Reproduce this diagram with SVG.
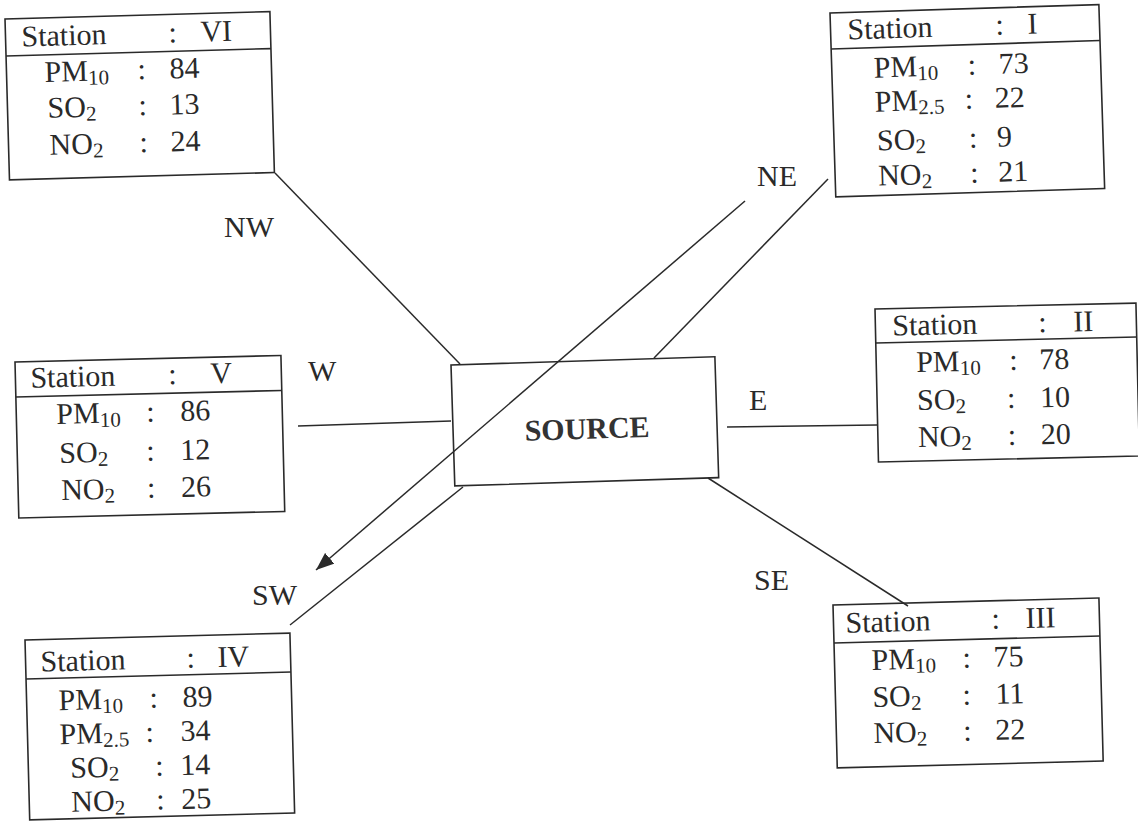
<svg xmlns="http://www.w3.org/2000/svg" width="1138" height="829" viewBox="0 0 1138 829">
<defs>
<style>
.box{fill:none;stroke:#2a2a2a;stroke-width:1.6}
.hd{stroke:#2a2a2a;stroke-width:1.6}
.t{font-family:"Liberation Serif","Times New Roman",serif;font-size:30px;fill:#2a2a2a}
.s{font-size:21px}
.src{font-family:"Liberation Serif","Times New Roman",serif;font-size:30px;font-weight:bold;fill:#333;text-anchor:middle}
.conn line{stroke:#2a2a2a;stroke-width:1.5}
</style>
<marker id="arr" markerUnits="userSpaceOnUse" markerWidth="20" markerHeight="14" refX="18" refY="7" orient="auto">
<path d="M0,0 L18,7 L0,14 z" fill="#2a2a2a"/>
</marker>
</defs>
<rect width="1138" height="829" fill="#fff"/>

<g class="conn" id="connectors">
<line x1="275" y1="173" x2="460" y2="364"/>
<line x1="745" y1="201" x2="316" y2="570" marker-end="url(#arr)"/>
<line x1="828" y1="179" x2="654" y2="358"/>
<line x1="298" y1="426" x2="451" y2="421"/>
<line x1="727" y1="427" x2="877" y2="425"/>
<line x1="463" y1="487" x2="290" y2="625"/>
<line x1="708" y1="478" x2="908" y2="606"/>
</g>

<g id="labels" class="t">
<text x="224" y="237">NW</text>
<text x="757" y="186">NE</text>
<text x="308" y="381">W</text>
<text x="749" y="410">E</text>
<text x="252" y="605">SW</text>
<text x="754" y="590">SE</text>
</g>

<g id="source" transform="translate(451,365) rotate(-1.8)">
<rect class="box" x="0" y="0" width="264" height="121"/>
<text class="src" x="134" y="78">SOURCE</text>
</g>

<g id="station-VI" class="t" transform="translate(5,19) rotate(-1.6)">
<rect class="box" x="0" y="0" width="265" height="161"/>
<line class="hd" x1="0" y1="37" x2="265" y2="37"/>
<text x="16" y="28">Station</text><text x="163" y="28">:</text><text x="195" y="28">VI</text>
<text x="38" y="64">PM<tspan class="s" dy="4">10</tspan></text><text x="131" y="64">:</text><text x="163" y="64">84</text>
<text x="40" y="100">SO<tspan class="s" dy="4">2</tspan></text><text x="131" y="100">:</text><text x="162" y="100">13</text>
<text x="41" y="137">NO<tspan class="s" dy="4">2</tspan></text><text x="131" y="137">:</text><text x="162" y="137">24</text>
</g>

<g id="station-I" class="t" transform="translate(830,13) rotate(-1.8)">
<rect class="box" x="0" y="0" width="269" height="184"/>
<line class="hd" x1="0" y1="36" x2="269" y2="36"/>
<text x="17" y="27">Station</text><text x="165" y="27">:</text><text x="197" y="27">I</text>
<text x="42" y="66">PM<tspan class="s" dy="4">10</tspan></text><text x="136" y="66">:</text><text x="167" y="66">73</text>
<text x="42" y="100">PM<tspan class="s" dy="4">2.5</tspan></text><text x="132" y="100">:</text><text x="162" y="100">22</text>
<text x="43" y="139">SO<tspan class="s" dy="4">2</tspan></text><text x="135" y="139">:</text><text x="163" y="139">9</text>
<text x="43" y="174">NO<tspan class="s" dy="4">2</tspan></text><text x="135" y="174">:</text><text x="163" y="174">21</text>
</g>

<g id="station-V" class="t" transform="translate(15,362) rotate(-1.4)">
<rect class="box" x="0" y="0" width="266" height="156"/>
<line class="hd" x1="0" y1="35" x2="266" y2="35"/>
<text x="15" y="26">Station</text><text x="153" y="26">:</text><text x="195" y="26">V</text>
<text x="40" y="63">PM<tspan class="s" dy="4">10</tspan></text><text x="130" y="63">:</text><text x="164" y="63">86</text>
<text x="42" y="102">SO<tspan class="s" dy="4">2</tspan></text><text x="129" y="102">:</text><text x="163" y="102">12</text>
<text x="43" y="139">NO<tspan class="s" dy="4">2</tspan></text><text x="129" y="139">:</text><text x="163" y="139">26</text>
</g>

<g id="station-II" class="t" transform="translate(875,309) rotate(-1.3)">
<rect class="box" x="0" y="0" width="261" height="153"/>
<line class="hd" x1="0" y1="34" x2="261" y2="34"/>
<text x="17" y="27">Station</text><text x="163" y="27">:</text><text x="198" y="27">II</text>
<text x="40" y="64">PM<tspan class="s" dy="4">10</tspan></text><text x="133" y="64">:</text><text x="163" y="64">78</text>
<text x="40" y="102">SO<tspan class="s" dy="4">2</tspan></text><text x="130" y="102">:</text><text x="163" y="102">10</text>
<text x="40" y="139">NO<tspan class="s" dy="4">2</tspan></text><text x="130" y="139">:</text><text x="163" y="139">20</text>
</g>

<g id="station-IV" class="t" transform="translate(25,640) rotate(-1.5)">
<rect class="box" x="0" y="0" width="265" height="180"/>
<line class="hd" x1="0" y1="39" x2="265" y2="39"/>
<text x="15" y="32">Station</text><text x="161" y="32">:</text><text x="192" y="32">IV</text>
<text x="32" y="71">PM<tspan class="s" dy="4">10</tspan></text><text x="123" y="71">:</text><text x="156" y="71">89</text>
<text x="32" y="105">PM<tspan class="s" dy="4">2.5</tspan></text><text x="118" y="105">:</text><text x="153" y="105">34</text>
<text x="42" y="139">SO<tspan class="s" dy="4">2</tspan></text><text x="127" y="139">:</text><text x="152" y="139">14</text>
<text x="42" y="173">NO<tspan class="s" dy="4">2</tspan></text><text x="127" y="173">:</text><text x="152" y="173">25</text>
</g>

<g id="station-III" class="t" transform="translate(833,605) rotate(-1.5)">
<rect class="box" x="0" y="0" width="266" height="163"/>
<line class="hd" x1="0" y1="38" x2="266" y2="38"/>
<text x="12" y="28">Station</text><text x="158" y="28">:</text><text x="192" y="28">III</text>
<text x="37" y="66">PM<tspan class="s" dy="4">10</tspan></text><text x="128" y="66">:</text><text x="159" y="66">75</text>
<text x="37" y="103">SO<tspan class="s" dy="4">2</tspan></text><text x="127" y="103">:</text><text x="160" y="103">11</text>
<text x="37" y="139">NO<tspan class="s" dy="4">2</tspan></text><text x="127" y="139">:</text><text x="159" y="139">22</text>
</g>
</svg>
